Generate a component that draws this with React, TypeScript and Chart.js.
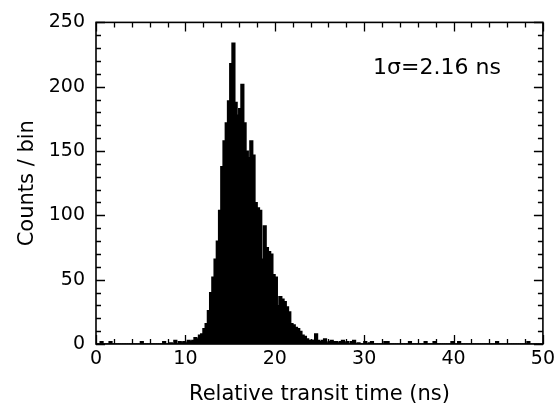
import React, { useEffect, useRef } from "react";
import { Chart, registerables } from "chart.js";

Chart.register(...registerables);

// ---- Data (histogram of relative transit time, 0.25 ns bins) ----
const BIN_WIDTH_NS = 0.25;
const X_MIN = 0;
const X_MAX = 50;
const Y_MIN = 0;
const Y_MAX = 250;
const X_MAJOR = 10;
const X_MINOR = 2;
const Y_MAJOR = 50;
const Y_MINOR = 10;

// counts per bin, 20 bins (5 ns) per row
const COUNTS_0_5 = [0, 0, 2, 0, 0, 0, 2, 0, 0, 0, 0, 0, 0, 0, 0, 0, 0, 0, 0, 0];
const COUNTS_5_10 = [2, 0, 0, 0, 0, 0, 0, 0, 0, 0, 2, 0, 0, 1, 0, 3, 0, 2, 1, 2];
const COUNTS_10_15 = [1, 3, 2, 3, 5, 4, 7, 8, 12, 16, 26, 40, 52, 66, 80, 104, 138, 158, 172, 189];
const COUNTS_15_20 = [218, 234, 188, 178, 183, 202, 172, 150, 145, 158, 147, 110, 106, 104, 66, 92, 75, 72, 70, 54];
const COUNTS_20_25 = [52, 30, 37, 35, 33, 29, 25, 16, 15, 13, 12, 10, 7, 6, 4, 3, 3, 3, 8, 3];
const COUNTS_25_30 = [2, 3, 4, 1, 2, 3, 2, 2, 1, 2, 3, 1, 2, 0, 2, 3, 0, 1, 0, 0];
const COUNTS_30_35 = [2, 0, 1, 2, 0, 0, 0, 0, 0, 2, 2, 0, 0, 0, 0, 0, 0, 0, 0, 0];
const COUNTS_35_40 = [2, 0, 0, 0, 0, 0, 0, 2, 0, 0, 0, 2, 0, 0, 0, 0, 0, 0, 0, 2];
const COUNTS_40_45 = [0, 0, 2, 0, 0, 0, 0, 0, 0, 0, 0, 0, 0, 0, 0, 0, 0, 0, 0, 2];
const COUNTS_45_50 = [0, 0, 0, 0, 0, 0, 0, 0, 0, 0, 0, 0, 0, 2, 0, 0, 0, 0, 0, 0];

const COUNTS = [
  ...COUNTS_0_5,
  ...COUNTS_5_10,
  ...COUNTS_10_15,
  ...COUNTS_15_20,
  ...COUNTS_20_25,
  ...COUNTS_25_30,
  ...COUNTS_30_35,
  ...COUNTS_35_40,
  ...COUNTS_40_45,
  ...COUNTS_45_50,
];

const X_TITLE = "Relative transit time (ns)";
const Y_TITLE = "Counts / bin";
const ANNOTATION_TEXT = "1σ=2.16 ns";
const ANNOTATION_X = 31.0;
const ANNOTATION_Y = 210;

const FONT = '"DejaVu Sans", "Liberation Sans", sans-serif';

const framePlugin = {
  id: "frameTicks",
  afterDatasetsDraw(chart: any) {
    const { ctx, chartArea, scales } = chart;
    const { left, right, top, bottom } = chartArea;
    const x = scales.x;
    const y = scales.y;
    ctx.save();
    ctx.strokeStyle = "#000";
    ctx.lineWidth = 1.6;
    ctx.strokeRect(left, top, right - left, bottom - top);
    ctx.lineWidth = 1.3;
    ctx.beginPath();
    for (let v = X_MIN; v <= X_MAX; v += X_MINOR) {
      const px = Math.round(x.getPixelForValue(v)) + 0.5;
      const len = v % X_MAJOR === 0 ? 9 : 5;
      ctx.moveTo(px, bottom);
      ctx.lineTo(px, bottom - len);
      ctx.moveTo(px, top);
      ctx.lineTo(px, top + len);
    }
    for (let v = Y_MIN; v <= Y_MAX; v += Y_MINOR) {
      const py = Math.round(y.getPixelForValue(v)) + 0.5;
      const len = v % Y_MAJOR === 0 ? 9 : 5;
      ctx.moveTo(left, py);
      ctx.lineTo(left + len, py);
      ctx.moveTo(right, py);
      ctx.lineTo(right - len, py);
    }
    ctx.stroke();
    ctx.fillStyle = "#000";
    ctx.font = `22px ${FONT}`;
    ctx.textAlign = "left";
    ctx.textBaseline = "alphabetic";
    ctx.fillText(
      ANNOTATION_TEXT,
      x.getPixelForValue(ANNOTATION_X),
      y.getPixelForValue(ANNOTATION_Y)
    );
    ctx.restore();
  },
};

export default function App() {
  const canvasRef = useRef<HTMLCanvasElement | null>(null);

  useEffect(() => {
    if (!canvasRef.current) return;
    const points = COUNTS.map((c, i) => ({
      x: X_MIN + (i + 0.5) * BIN_WIDTH_NS,
      y: c,
    }));

    const chart = new Chart(canvasRef.current, {
      type: "bar",
      data: {
        datasets: [
          {
            data: points,
            backgroundColor: "#000",
            borderWidth: 0,
            barThickness: 3.2,
            inflateAmount: 0.5,
          },
        ],
      },
      options: {
        responsive: false,
        animation: false,
        layout: { padding: { top: 19, right: 14, left: 0, bottom: 0 } },
        plugins: {
          legend: { display: false },
          tooltip: { enabled: false },
        },
        scales: {
          x: {
            type: "linear",
            min: X_MIN,
            max: X_MAX,
            offset: false,
            grid: { display: false, drawTicks: false },
            border: { display: false },
            ticks: {
              stepSize: X_MAJOR,
              padding: 4,
              color: "#000",
              font: { family: FONT, size: 19 },
              maxRotation: 0,
            },
            title: {
              display: true,
              text: X_TITLE,
              color: "#000",
              font: { family: FONT, size: 21 },
              padding: { top: 0, bottom: 3 },
            },
            afterFit: (scale: any) => {
              scale.height = 66;
            },
          },
          y: {
            type: "linear",
            min: Y_MIN,
            max: Y_MAX,
            grid: { display: false, drawTicks: false },
            border: { display: false },
            ticks: {
              stepSize: Y_MAJOR,
              padding: 11,
              color: "#000",
              font: { family: FONT, size: 19 },
            },
            title: {
              display: true,
              text: Y_TITLE,
              color: "#000",
              font: { family: FONT, size: 21 },
              padding: { top: 15, bottom: 0 },
            },
            afterFit: (scale: any) => {
              scale.width = 96;
            },
          },
        },
      },
      plugins: [framePlugin],
    });
    return () => chart.destroy();
  }, []);

  return (
    <div style={{ position: "fixed", left: 0, top: 0, width: 559, height: 410, background: "#fff" }}>
      <canvas ref={canvasRef} width={559} height={410} style={{ display: "block" }} />
    </div>
  );
}
